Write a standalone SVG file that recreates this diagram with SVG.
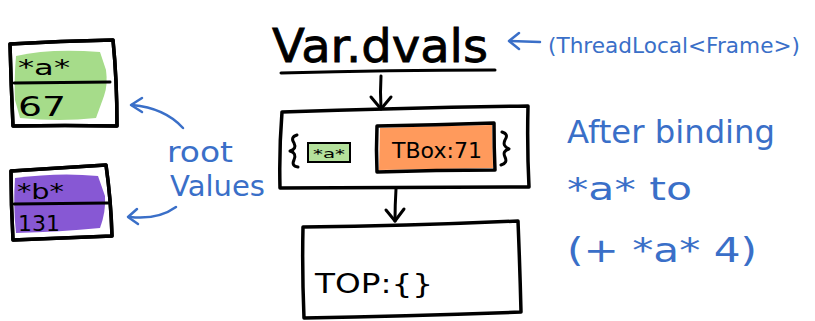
<svg xmlns="http://www.w3.org/2000/svg" width="815" height="321" viewBox="0 0 815 321">
<defs>
<style>
.box{fill:#fff;stroke:#000;stroke-width:3.5;stroke-linejoin:round;stroke-linecap:round}
.edge{fill:none;stroke:#000;stroke-width:3.5;stroke-linejoin:round;stroke-linecap:round}
.ln{fill:none;stroke:#000;stroke-width:3;stroke-linecap:round;stroke-linejoin:round}
.bl{fill:none;stroke:#3a6fc8;stroke-width:2.5;stroke-linecap:round;stroke-linejoin:round}
.t{font-family:"DejaVu Sans","Liberation Sans",sans-serif;fill:#000}
.tb{font-family:"DejaVu Sans","Liberation Sans",sans-serif;fill:#3a6fc8}
</style>
</defs>
<rect width="815" height="321" fill="#fff"/>
<g id="title">
<text class="t" x="272" y="62" font-size="46" textLength="216" lengthAdjust="spacingAndGlyphs" stroke="#000" stroke-width="0.8">Var.dvals</text>
<path class="ln" d="M281 73 Q390 70 495 70"/>
</g>
<g id="threadlocal">
<text class="tb" x="548" y="53" font-size="22" textLength="252" lengthAdjust="spacingAndGlyphs">(ThreadLocal&lt;Frame&gt;)</text>
</g>
<g id="rootA">
<path class="box" d="M10 44 Q60 41 113 40 Q117 80 117 126 Q65 125 13 126 Q11 85 10 44Z"/>
<path d="M16 56 Q50 48 100 52 L106 70 Q108 85 104 96 L96 118 Q60 122 20 118 L15 100 Q14 80 16 56Z" fill="#a6dc8a"/>
<path class="edge" d="M10 44 Q60 41 113 40 Q117 80 117 126 Q65 125 13 126 Q11 85 10 44Z"/>
<path d="M14 83 L110 82" class="ln"/>
<text class="t" x="18" y="75" font-size="22" textLength="52" lengthAdjust="spacingAndGlyphs">*a*</text>
<text class="t" x="18" y="116" font-size="27" textLength="48" lengthAdjust="spacingAndGlyphs">67</text>
</g>
<g id="rootB">
<path class="box" d="M11 171 Q60 168 106 165 Q111 200 112 236 Q60 238 13 240 Q11 205 11 171Z"/>
<path d="M15 178 Q60 172 98 176 L105 196 Q106 212 100 228 Q60 232 16 233 Q13 205 15 178Z" fill="#8758d4"/>
<path class="edge" d="M11 171 Q60 168 106 165 Q111 200 112 236 Q60 238 13 240 Q11 205 11 171Z"/>
<path d="M14 204 L108 203" class="ln"/>
<text class="t" x="17" y="199" font-size="22" textLength="47" lengthAdjust="spacingAndGlyphs">*b*</text>
<text class="t" x="18" y="231" font-size="22" textLength="42" lengthAdjust="spacingAndGlyphs">131</text>
</g>
<g id="rootValues">
<text class="tb" x="167" y="162" font-size="28" textLength="66" lengthAdjust="spacingAndGlyphs">root</text>
<text class="tb" x="170" y="196" font-size="28" textLength="95" lengthAdjust="spacingAndGlyphs">Values</text>
</g>
<g id="frame">
<path class="box" d="M282 112 Q400 108 528 106 Q527 148 529 187 Q400 188 280 188 Q279 150 282 112Z"/>
<path class="ln" d="M297 135 Q290 137 294 143 Q297 149 290 151 Q297 153 294 160 Q291 166 298 167" stroke-width="2"/>
<path class="ln" d="M502 132 Q509 134 505 140 Q502 146 509 149 Q502 151 505 157 Q508 163 501 165" stroke-width="2"/>
</g>
<g id="bindA">
<rect x="308" y="143" width="42" height="19" fill="#b4e19c" stroke="#000" stroke-width="2"/>
<text class="t" x="313" y="158" font-size="12" textLength="32" lengthAdjust="spacingAndGlyphs">*a*</text>
</g>
<g id="tbox">
<path d="M380 128 Q435 126 492 125 L493 168 Q436 169 379 170Z" fill="#ff9a5c"/>
<path class="edge" d="M377 126 Q435 125 494 123 Q494 148 495 170 Q436 170 377 172 Q376 150 377 126Z" stroke-width="2.5"/>
<text class="t" x="392" y="158" font-size="22" textLength="90" lengthAdjust="spacingAndGlyphs">TBox:71</text>
</g>
<g id="top">
<path class="box" d="M303 227 Q410 226 518 221 Q520 270 521 312 Q410 316 304 318 Q302 270 303 227Z"/>
<text class="t" x="315" y="293" font-size="27" textLength="118" lengthAdjust="spacingAndGlyphs">TOP:{}</text>
</g>
<g id="note">
<text class="tb" x="567" y="143" font-size="32" textLength="208" lengthAdjust="spacingAndGlyphs">After binding</text>
<text class="tb" x="567" y="200" font-size="32" textLength="125" lengthAdjust="spacingAndGlyphs">*a* to</text>
<text class="tb" x="567" y="262" font-size="34" textLength="190" lengthAdjust="spacingAndGlyphs">(+ *a* 4)</text>
</g>
<g id="connectors">
<path class="ln" d="M381 76 Q380 92 381 108"/>
<path class="ln" d="M371 97 L381 109 L391 97"/>
<path class="ln" d="M396 189 Q395 205 395 221"/>
<path class="ln" d="M386 210 L395 221 L404 209"/>
<path class="bl" d="M540 42 L510 41"/>
<path class="bl" d="M519 33 L509 41 L519 49"/>
<path class="bl" d="M183 128 Q165 108 132 105"/>
<path class="bl" d="M142 98 L131 105 L142 112"/>
<path class="bl" d="M176 207 Q158 220 130 217"/>
<path class="bl" d="M137 209 L128 217 L138 224"/>
</g>
</svg>
